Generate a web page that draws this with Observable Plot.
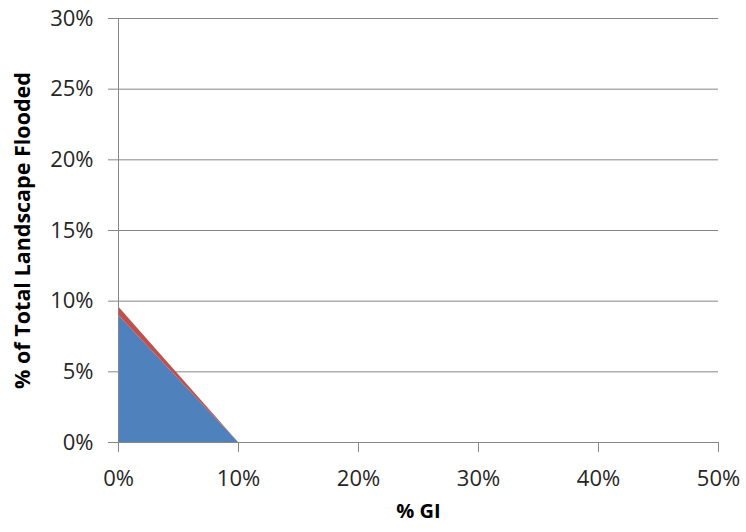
<!DOCTYPE html>
<html><head><meta charset="utf-8">
<script src="https://cdn.jsdelivr.net/npm/d3@7"></script>
<script src="https://cdn.jsdelivr.net/npm/@observablehq/plot@0.6"></script>
<style>body{margin:0;background:#fff;} svg{display:block;}</style>
</head><body><div id="chart"></div>
<script>
const gi = [0, 0.10, 0.20, 0.30, 0.40, 0.50];
const seriesA = [0.090, 0, 0, 0, 0, 0];   // blue
const seriesB = [0.006, 0, 0, 0, 0, 0];   // red (stacked on top)
const xTicks = [0, 0.1, 0.2, 0.3, 0.4, 0.5];
const yTicks = [0, 0.05, 0.10, 0.15, 0.20, 0.25, 0.30];

const data = [];
gi.forEach((x, i) => data.push({x, y: seriesA[i], s: "A"}));
gi.forEach((x, i) => data.push({x, y: seriesB[i], s: "B"}));

const font = "'Open Sans', sans-serif";
const chart = Plot.plot({
  width: 746, height: 532,
  marginLeft: 118, marginRight: 28, marginTop: 18, marginBottom: 90,
  style: {fontFamily: font, color: "#262626", background: "#fff"},
  x: {domain: [0, 0.5]},
  y: {domain: [0, 0.3]},
  color: {domain: ["A", "B"], range: ["#4F81BD", "#C0504D"]},
  marks: [
    Plot.gridY(yTicks, {stroke: "#868686", strokeOpacity: 1}),
    Plot.areaY(data, {x: "x", y: "y", fill: "s", z: "s", order: ["A", "B"]}),
    Plot.ruleX([0], {stroke: "#868686"}),
    Plot.axisX(xTicks, {tickFormat: d3.format(".0%"), tickSize: 10, tickPadding: 18, fontSize: 22, stroke: "#868686", label: null}),
    Plot.axisY(yTicks, {tickFormat: d3.format(".0%"), tickSize: 10, tickPadding: 15, fontSize: 22, stroke: "#868686", label: null}),
    Plot.text(["% GI"], {frameAnchor: "bottom", dy: 75, fontSize: 20, fontWeight: "bold", fill: "#000"}),
    Plot.text(["% of Total Landscape Flooded"], {frameAnchor: "left", dx: -95, rotate: -90, textAnchor: "middle", fontSize: 21.5, fontWeight: "bold", fill: "#000"})
  ]
});
document.getElementById("chart").appendChild(chart);
</script></body></html>
